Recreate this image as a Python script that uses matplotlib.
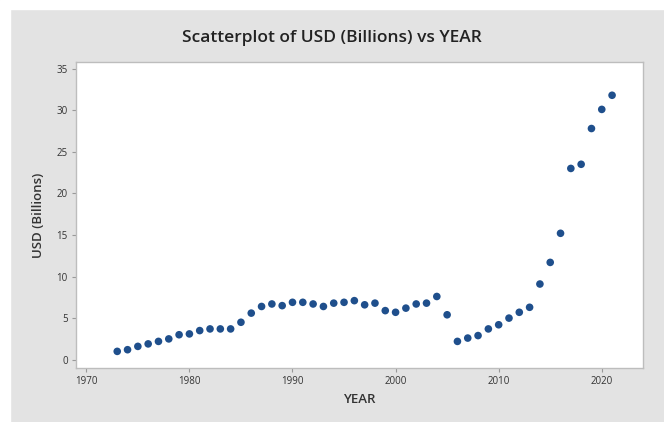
import matplotlib
matplotlib.use("Agg")
import matplotlib.pyplot as plt
from matplotlib.patches import Rectangle

years = list(range(1973, 2022))
usd = [1.0, 1.2, 1.6, 1.9, 2.2, 2.5, 3.0, 3.1, 3.5, 3.7, 3.7, 3.7, 4.5, 5.6,
       6.4, 6.7, 6.5, 6.9, 6.9, 6.7, 6.4, 6.8, 6.9, 7.1, 6.6, 6.8, 5.9, 5.7,
       6.2, 6.7, 6.8, 7.6, 5.4, 2.2, 2.6, 2.9, 3.7, 4.2, 5.0, 5.7, 6.3, 9.1,
       11.7, 15.2, 23.0, 23.5, 27.8, 30.1, 31.8]

xticks = [1970, 1980, 1990, 2000, 2010, 2020]
yticks = [0, 5, 10, 15, 20, 25, 30, 35]

plt.rcParams['font.family'] = ['Open Sans', 'DejaVu Sans']

W, H = 664, 422
fig = plt.figure(figsize=(W / 100, H / 100), dpi=100)
fig.patch.set_facecolor('#e3e3e3')
# white margin top and left, like the screenshot
fig.patches.append(Rectangle((0, 1 - 9 / H), 1, 9 / H, transform=fig.transFigure,
                             color='white', zorder=0))
fig.patches.append(Rectangle((0, 0), 10 / W, 1, transform=fig.transFigure,
                             color='white', zorder=0))

ax = fig.add_axes([76 / W, 1 - 368 / H, (643 - 76) / W, (368 - 62) / H])
ax.set_facecolor('white')
ax.scatter(years, usd, s=30, color='#1f4f8c', edgecolors='none', zorder=3)

ax.set_xlim(1969.0, 2024.0)
ax.set_ylim(-1.0, 35.8)
ax.set_xticks(xticks)
ax.set_yticks(yticks)
ax.tick_params(axis='both', labelsize=7, colors='#999999', labelcolor='#333333',
               length=3, width=0.8, direction='out', pad=3)
for s in ax.spines.values():
    s.set_color('#bdbdbd')
    s.set_linewidth(1.0)

ax.set_xlabel('YEAR', fontsize=9.5, fontweight='semibold', color='#333333', labelpad=4)
ax.set_ylabel('USD (Billions)', fontsize=9.5, fontweight='semibold', color='#333333', labelpad=8)
fig.text(332 / W, 1 - 38 / H, 'Scatterplot of USD (Billions) vs YEAR', ha='center', va='center',
         fontsize=12.5, fontweight='semibold', color='#222222')

fig.savefig('out.png', dpi=100, facecolor=fig.get_facecolor())
